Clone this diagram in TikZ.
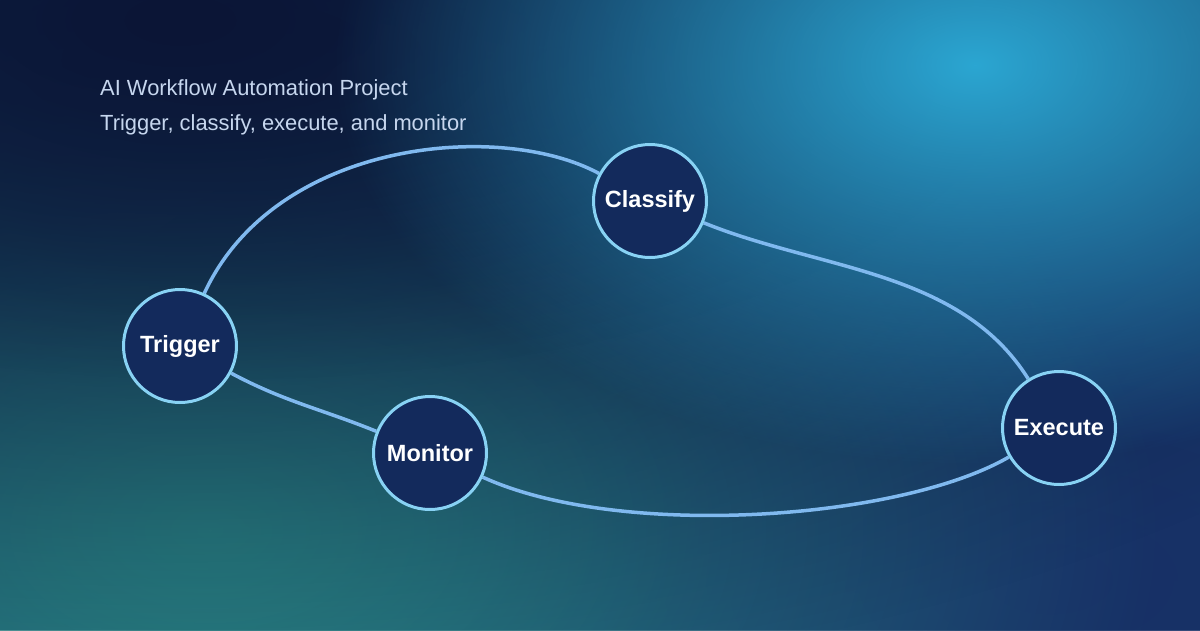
\documentclass[tikz,border=0pt]{standalone}
\usepackage{fontspec}
\setmainfont{Liberation Sans}
\usetikzlibrary{fadings}
\definecolor{bgbase}{HTML}{18436A}
\definecolor{bgdark}{HTML}{0B1536}
\definecolor{bgcyan}{HTML}{2BA6D2}
\definecolor{bgteal}{HTML}{2A8786}
\definecolor{bgnavy}{HTML}{172F66}
\definecolor{bgmid}{HTML}{183A6A}
\definecolor{nodefill}{HTML}{132A5C}
\definecolor{nodeborder}{HTML}{88D2F4}
\definecolor{linkcol}{HTML}{80B9EF}
\definecolor{titlecol}{HTML}{C6D6EE}
\tikzfading[name=glow, inner color=transparent!0, outer color=transparent!100]
\pgfdeclarelayer{bg}
\pgfdeclarelayer{links}
\pgfsetlayers{bg,links,main}
\begin{document}
\begin{tikzpicture}[x=1pt,y=-1pt,
  stagenode/.style={circle, draw=nodeborder, line width=3pt, fill=nodefill,
    minimum size=113pt, inner sep=0pt, text=white,
    font=\bfseries\fontsize{23.5}{28}\selectfont},
  link/.style={draw=linkcol, line width=3.5pt},
  titletext/.style={text=titlecol, font=\fontsize{21.9}{26}\selectfont, inner sep=0pt}]
\useasboundingbox (0,0) rectangle (1200,630);
\begin{pgfonlayer}{bg}
  \clip (0,0) rectangle (1200,630);
  \fill[bgbase] (0,0) rectangle (1200,630);
  \fill[bgmid, path fading=glow] (700,320) ellipse [x radius=1000pt, y radius=420pt];
  \fill[bgnavy, path fading=glow] (1050,580) ellipse [x radius=1100pt, y radius=600pt];
  \fill[bgteal, path fading=glow] (210,530) ellipse [x radius=950pt, y radius=580pt];
  \fill[bgteal, path fading=glow, opacity=0.5] (210,520) ellipse [x radius=500pt, y radius=320pt];
  \fill[bgdark, path fading=glow] (180,20) ellipse [x radius=1500pt, y radius=680pt];
  \fill[bgdark, path fading=glow, opacity=0.5] (220,60) ellipse [x radius=800pt, y radius=320pt];
  \fill[bgcyan, path fading=glow] (975,65) ellipse [x radius=640pt, y radius=400pt];
\end{pgfonlayer}
\node[titletext, anchor=base west] (title) at (100,95) {AI Workflow Automation Project};
\node[titletext, anchor=base west] (subtitle) at (100,130) {Trigger, classify, execute, and monitor};
\node[stagenode] (trigger) at (180,346) {Trigger};
\node[stagenode] (classify) at (650,201) {Classify};
\node[stagenode] (execute) at (1059,428) {Execute};
\node[stagenode] (monitor) at (430,453) {Monitor};
\begin{pgfonlayer}{links}
  \draw[link] (trigger) .. controls (275,140) and (500,120) .. (classify);
  \draw[link] (classify) .. controls (820,270) and (960,270) .. (execute);
  \draw[link] (execute) .. controls (900,520) and (620,540) .. (monitor);
  \draw[link] (trigger) to[out=-28, in=158] (monitor);
\end{pgfonlayer}
\end{tikzpicture}
\end{document}
